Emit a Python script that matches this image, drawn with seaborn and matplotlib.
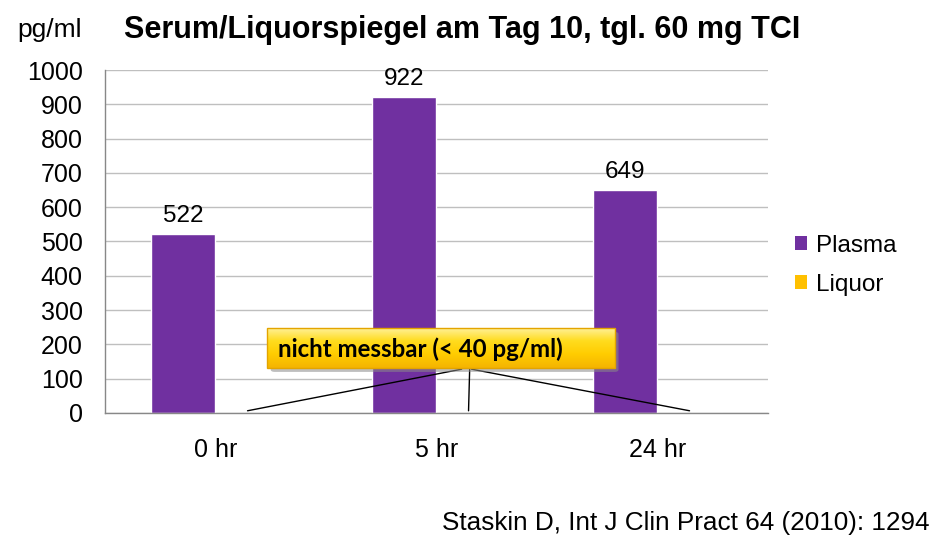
import matplotlib
matplotlib.use("Agg")
import matplotlib.pyplot as plt
import seaborn as sns
import pandas as pd
import numpy as np
from matplotlib.patches import FancyBboxPatch, Rectangle, Patch
from matplotlib.colors import LinearSegmentedColormap

categories = ["0 hr", "5 hr", "24 hr"]
plasma = [522, 922, 649]
liquor = [0, 0, 0]
series = ["Plasma", "Liquor"]
colors = ["#7030A0", "#FFC000"]
yticks = [0, 100, 200, 300, 400, 500, 600, 700, 800, 900, 1000]

df = pd.DataFrame({
    "time": categories * 2,
    "value": plasma + liquor,
    "series": ["Plasma"] * 3 + ["Liquor"] * 3,
})

sns.set_style("white")
plt.rcParams["font.family"] = ["Liberation Sans", "DejaVu Sans"]
plt.rcParams["text.color"] = "black"
plt.rcParams["xtick.labelcolor"] = "black"
plt.rcParams["ytick.labelcolor"] = "black"

fig = plt.figure(figsize=(9.45, 5.56), dpi=100)
ax = fig.add_axes([0.1111, 0.2572, 0.7016, 0.6169])

sns.barplot(data=df, x="time", y="value", hue="series", order=categories,
            hue_order=series, palette=colors, width=0.58, gap=0,
            saturation=1, ax=ax, legend=False)

ax.set_ylim(0, 1000)
ax.set_xlim(-0.5, 2.5)
ax.set_yticks(yticks)
ax.set_yticklabels([str(t) for t in yticks], fontsize=18)
ax.yaxis.grid(True, color="#BFBFBF", linewidth=1)
ax.set_axisbelow(True)
ax.set_xlabel("")
ax.set_ylabel("")
ax.tick_params(axis="y", length=6, color="#888888", width=1, pad=10, labelcolor="black")
ax.set_xticks(range(len(categories)))
ax.set_xticklabels(categories, fontsize=18)
ax.tick_params(axis="x", which="major", length=0, pad=18, labelcolor="black")
ax.set_xticks([-0.5, 0.5, 1.5, 2.5], minor=True)
ax.tick_params(axis="x", which="minor", length=5, color="#888888", width=1)
for s in ["top", "right"]:
    ax.spines[s].set_visible(False)
for s in ["left", "bottom"]:
    ax.spines[s].set_color("#888888")
    ax.spines[s].set_linewidth(1)

# value labels on plasma bars
ax.bar_label(ax.containers[0], labels=[str(v) for v in plasma], fontsize=17.5,
             padding=5, color="black")

# legend
handles = [Patch(facecolor=c, edgecolor="none") for c in colors]
fig.legend(handles, series, loc="upper left", bbox_to_anchor=(0.8285, 0.6),
           frameon=False, fontsize=17.5, handlelength=0.5, handleheight=0.5,
           handletextpad=0.35, labelspacing=0.7, borderpad=0, labelcolor="black")

# title and unit
fig.text(0.489, 0.946, "Serum/Liquorspiegel am Tag 10, tgl. 60 mg TCI",
         ha="center", va="center", fontsize=22, fontweight="bold", color="black")
fig.text(0.018, 0.946, "pg/ml", ha="left", va="center", fontsize=19, color="black")

# citation
fig.text(0.984, 0.059, "Staskin D, Int J Clin Pract 64 (2010): 1294",
         ha="right", va="center", fontsize=18.8, color="black")

# annotation lines to liquor bars (zero values)
anchor_fig = [(0.4885, 0.336), (0.497, 0.336), (0.499, 0.336)]
for bar, a in zip(ax.containers[1], anchor_fig):
    xb = bar.get_x() + bar.get_width() / 2
    xd, yd = fig.transFigure.inverted().transform(ax.transData.transform((xb, 0)))
    fig.add_artist(plt.Line2D([a[0], xd], [a[1], yd + 0.004], color="black",
                              linewidth=1, transform=fig.transFigure, zorder=2))

# yellow box with shadow
bx, by, bw, bh = 0.2825, 0.3381, 0.368, 0.072
shadow = FancyBboxPatch((bx + 0.004, by - 0.007), bw, bh,
                        boxstyle="round,pad=0,rounding_size=0.004",
                        transform=fig.transFigure, facecolor="#8a8a8a",
                        edgecolor="none", alpha=0.55, zorder=3)
fig.add_artist(shadow)
grad_ax = fig.add_axes([bx, by, bw, bh], zorder=4)
grad = np.linspace(0, 1, 100).reshape(-1, 1)
cmap = LinearSegmentedColormap.from_list("y", ["#FFF2A0", "#FFDC1E", "#FFCC00", "#F5B400"])
grad_ax.imshow(grad, aspect="auto", cmap=cmap, extent=[0, 1, 0, 1], origin="upper")
grad_ax.set_axis_off()
frame = Rectangle((bx, by), bw, bh, transform=fig.transFigure,
                  facecolor="none", edgecolor="#E3A400", linewidth=1, zorder=5)
fig.add_artist(frame)
fig.text(bx + 0.0115, by + bh / 2 - 0.002, "nicht messbar (< 40 pg/ml)", ha="left",
         va="center", fontsize=17.3, fontweight="bold",
         family=["Lato", "DejaVu Sans"], color="black", zorder=6)

fig.savefig("out.png", dpi=100, facecolor="white")
